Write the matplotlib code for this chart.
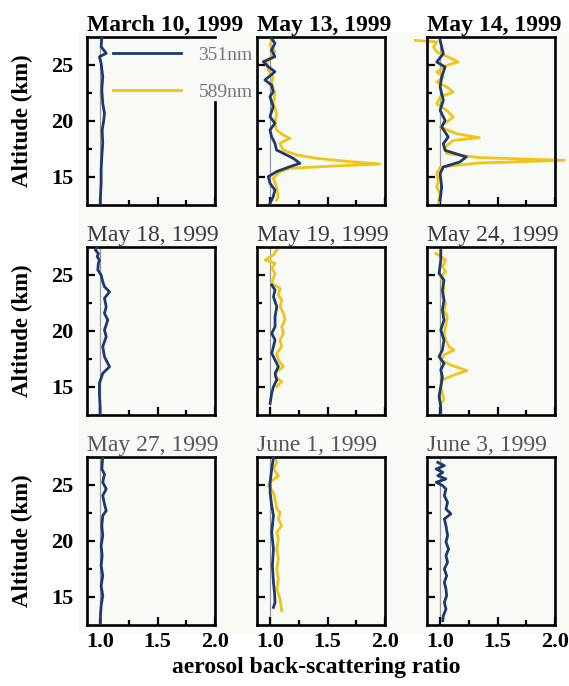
import matplotlib
matplotlib.use("Agg")
import matplotlib.pyplot as plt
from matplotlib.lines import Line2D
from matplotlib.patches import Rectangle

plt.rcParams['font.family'] = ['Liberation Serif', 'DejaVu Serif']

BLUE = '#1d3a70'
GOLD = '#f2c318'
TINT = '#f7faf5'

titles = ["March 10, 1999", "May 13, 1999", "May 14, 1999",
          "May 18, 1999", "May 19, 1999", "May 24, 1999",
          "May 27, 1999", "June 1, 1999", "June 3, 1999"]

# altitude (km) / back-scattering ratio profiles, 351 nm and 589 nm
mar10_alt_351 = [27.38, 26.64, 26.04, 25.74, 25.15, 23.96, 22.77, 21.58, 20.69, 20.09,
                 19.2, 18.0, 16.82, 15.63, 14.44, 13.24, 12.65]
mar10_r_351 = [1.015, 1.009, 1.053, 0.994, 1.009, 1.023, 1.015, 1.023, 1.038, 1.032,
               1.018, 1.023, 1.015, 1.009, 1.009, 1.003, 1.003]

may13_alt_351 = [27.38, 26.93, 26.34, 25.74, 25.3, 24.85, 24.4, 23.66, 23.21, 22.62,
                 22.17, 21.28, 20.39, 19.79, 19.2, 18.6, 18.01, 17.41, 16.97, 16.67,
                 16.22, 15.92, 15.48, 15.03, 14.44, 13.84, 13.24, 12.65]
may13_r_351 = [1.013, 1.042, 1.013, 1.042, 0.941, 0.984, 1.042, 0.955, 1.013, 1.027,
               0.999, 1.027, 0.999, 1.042, 0.999, 1.013, 1.042, 1.056, 1.143, 1.201,
               1.259, 1.172, 1.056, 0.984, 0.999, 1.042, 1.027, 0.999]
may13_alt_589 = [27.38, 26.79, 26.19, 25.6, 25.15, 24.55, 23.96, 23.36, 22.47, 21.58,
                 20.69, 19.79, 19.2, 18.75, 18.45, 18.01, 17.41, 16.97, 16.67, 16.37,
                 16.16, 15.98, 15.77, 15.48, 14.88, 14.14, 13.24, 12.94]
may13_r_589 = [1.027, 0.999, 1.042, 0.999, 0.97, 0.984, 1.027, 1.013, 1.042, 1.027,
               1.056, 1.042, 1.056, 1.114, 1.172, 1.085, 1.114, 1.23, 1.404, 1.694,
               1.955, 1.549, 1.172, 1.085, 1.027, 1.056, 1.07, 1.056]

may14_alt_351 = [27.2, 26.61, 26.01, 25.27, 24.82, 23.93, 23.04, 21.85, 20.95, 20.06,
                 19.47, 18.57, 17.98, 17.38, 16.79, 16.34, 15.89, 15.3, 14.11, 12.92]
may14_r_351 = [1.0, 1.014, 1.028, 0.971, 1.043, 1.014, 1.0, 1.028, 1.0, 1.043,
               1.014, 1.071, 1.028, 1.043, 1.228, 1.171, 1.028, 1.0, 1.014, 1.0]
may14_alt_589 = [27.2, 27.06, 26.61, 26.16, 25.72, 25.27, 24.97, 24.38, 23.93, 23.48,
                 23.04, 22.59, 22.14, 21.55, 20.95, 20.36, 19.91, 19.47, 18.87, 18.51,
                 18.27, 17.68, 17.09, 16.73, 16.49, 16.25, 15.89, 15.3, 14.7, 14.11,
                 13.51, 12.62]
may14_r_589 = [0.786, 0.971, 0.943, 0.971, 1.071, 1.157, 1.057, 0.971, 1.028, 0.971,
               1.057, 1.114, 1.0, 0.971, 1.057, 1.114, 1.057, 1.0, 1.142, 1.341,
               1.114, 1.043, 1.057, 1.341, 2.081, 1.341, 1.0, 0.971, 0.985, 0.971,
               1.0, 0.985]

may18_alt_351 = [27.44, 27.23, 26.93, 26.63, 26.34, 26.04, 25.45, 25.0, 24.4, 23.96,
                 23.5, 22.92, 22.17, 21.58, 20.98, 20.09, 19.49, 18.6, 17.7, 16.81,
                 16.22, 15.33, 14.44, 13.24, 12.5]
may18_r_351 = [0.971, 0.958, 0.985, 0.975, 0.994, 0.985, 0.98, 1.009, 1.023, 1.038,
               1.082, 1.038, 1.053, 1.038, 1.067, 1.038, 1.053, 1.023, 1.038, 1.082,
               1.023, 0.994, 0.994, 1.0, 1.0]

may19_alt_351 = [24.11, 23.66, 23.07, 22.17, 21.28, 20.39, 19.79, 19.2, 18.6, 18.01,
                 17.41, 16.82, 16.22, 15.63, 15.03, 14.44, 13.54]
may19_r_351 = [1.014, 1.043, 1.029, 1.058, 1.043, 1.043, 1.014, 1.043, 1.029, 1.014,
               1.043, 1.072, 1.043, 1.058, 1.029, 1.014, 1.0]
may19_alt_589 = [27.23, 26.79, 26.34, 26.04, 25.6, 25.15, 24.7, 24.26, 23.81, 23.21,
                 22.77, 22.17, 21.58, 20.98, 20.39, 19.79, 19.2, 18.6, 18.01, 17.41,
                 16.82, 16.37, 15.92, 15.48, 15.03]
may19_r_589 = [1.058, 1.029, 0.957, 1.043, 1.014, 1.043, 1.029, 1.014, 1.087, 1.072,
               1.101, 1.087, 1.116, 1.13, 1.101, 1.116, 1.087, 1.101, 1.058, 1.072,
               1.116, 1.058, 1.043, 1.101, 1.058]

may24_alt_351 = [27.23, 26.34, 25.15, 24.55, 23.66, 22.77, 21.88, 20.98, 20.09, 19.2,
                 18.3, 17.71, 17.11, 16.52, 15.92, 15.03, 14.14, 13.24, 12.65]
may24_r_351 = [1.006, 1.006, 0.991, 1.034, 1.02, 1.034, 1.02, 1.034, 1.006, 1.034,
               1.02, 0.991, 1.034, 1.006, 1.02, 1.006, 0.991, 1.006, 1.006]
may24_alt_589 = [26.93, 26.34, 25.74, 25.3, 24.85, 23.96, 23.07, 22.47, 21.88, 21.28,
                 20.39, 19.79, 19.2, 18.6, 18.3, 17.86, 17.41, 16.97, 16.46, 16.07,
                 15.63, 15.03, 14.44, 13.84, 13.54]
may24_r_589 = [0.963, 1.048, 1.02, 1.048, 1.006, 1.034, 1.02, 1.048, 1.034, 1.063,
               1.048, 1.034, 1.048, 1.077, 1.12, 1.034, 1.006, 1.091, 1.233, 1.12,
               1.02, 1.006, 1.02, 1.034, 1.006]

may27_alt_351 = [27.47, 26.43, 25.98, 25.24, 24.64, 24.05, 23.3, 22.7, 22.26, 21.37,
                 20.48, 19.58, 18.69, 17.8, 16.9, 16.0, 15.12, 14.22, 13.33, 12.5]
may27_r_351 = [1.023, 1.015, 1.038, 1.023, 1.053, 1.023, 1.038, 1.053, 1.023, 1.015,
               1.023, 1.009, 1.018, 1.009, 1.023, 1.009, 1.023, 1.009, 1.003, 1.003]

jun1_alt_351 = [27.47, 26.43, 25.24, 24.34, 23.15, 22.26, 20.77, 19.28, 17.8, 16.31,
                15.41, 14.52, 14.07]
jun1_r_351 = [1.029, 1.014, 1.0, 1.0, 1.014, 1.029, 1.014, 1.029, 1.02, 1.029,
              1.038, 1.043, 1.029]
jun1_alt_589 = [27.47, 27.02, 26.43, 25.83, 25.24, 24.94, 24.34, 23.75, 22.86, 22.56,
                21.96, 21.37, 20.77, 20.18, 19.28, 18.39, 17.5, 16.6, 15.71, 14.82,
                13.77]
jun1_r_589 = [1.043, 1.058, 1.029, 1.072, 1.0, 0.986, 1.029, 1.043, 1.058, 1.087,
              1.072, 1.101, 1.058, 1.072, 1.058, 1.072, 1.058, 1.072, 1.058, 1.087,
              1.101]

jun3_alt_351 = [27.02, 26.73, 26.43, 26.13, 25.83, 25.54, 25.24, 24.94, 24.64, 24.05,
                23.46, 22.86, 22.42, 21.97, 21.37, 20.48, 19.88, 19.29, 18.69, 18.1,
                17.5, 16.9, 16.31, 15.71, 15.12, 14.52, 13.92, 13.33, 12.88]
jun3_r_351 = [0.98, 1.037, 0.966, 1.023, 0.98, 1.051, 0.966, 1.023, 1.051, 1.037,
              1.065, 1.051, 1.094, 1.037, 1.051, 1.065, 1.051, 1.074, 1.051, 1.065,
              1.037, 1.057, 1.037, 1.051, 1.057, 1.037, 1.051, 1.028, 1.023]

profiles_351 = [(mar10_alt_351, mar10_r_351), (may13_alt_351, may13_r_351),
                (may14_alt_351, may14_r_351), (may18_alt_351, may18_r_351),
                (may19_alt_351, may19_r_351), (may24_alt_351, may24_r_351),
                (may27_alt_351, may27_r_351), (jun1_alt_351, jun1_r_351),
                (jun3_alt_351, jun3_r_351)]
profiles_589 = [None, (may13_alt_589, may13_r_589), (may14_alt_589, may14_r_589),
                None, (may19_alt_589, may19_r_589), (may24_alt_589, may24_r_589),
                None, (jun1_alt_589, jun1_r_589), None]

W, H = 569, 686
col_left = [87, 257, 427]
row_top = [37, 247, 457]
pw, ph = 128, 168

fig = plt.figure(figsize=(W / 100, H / 100), dpi=100)
# faint tinted backing behind the panel grid
fig.add_artist(Rectangle((78 / W, 1 - 633 / H), 1 - 78 / W, (633 - 32) / H,
                         transform=fig.transFigure, facecolor=TINT,
                         edgecolor='none', zorder=-5))

for i, title in enumerate(titles):
    r, c = divmod(i, 3)
    ax = fig.add_axes([col_left[c] / W, 1 - (row_top[r] + ph) / H, pw / W, ph / H])
    ax.set_zorder(1)
    ax.set_facecolor(TINT)
    ax.set_xlim(0.886, 1.99)
    ax.set_ylim(12.5, 27.5)
    ax.axvline(1.0, color='#9a9a9a', lw=0.9, zorder=1)

    if profiles_589[i] is not None:
        alt, ratio = profiles_589[i]
        ax.plot(ratio, alt, color=GOLD, lw=2.0, zorder=2, clip_on=(i != 2))
    alt, ratio = profiles_351[i]
    ax.plot(ratio, alt, color=BLUE, lw=2.0, zorder=3)

    ax.set_xticks([1.0, 1.5, 2.0])
    ax.set_xticks([1.25, 1.75], minor=True)
    ax.set_yticks([15, 20, 25])
    ax.set_yticks([17.5, 22.5], minor=True)
    ax.tick_params(which='both', direction='in', width=1.6, top=False, right=False,
                   labelsize=16)
    ax.tick_params(which='major', length=6)
    ax.tick_params(which='minor', length=3.5)
    ax.tick_params(axis='y', pad=10)
    ax.tick_params(axis='x', pad=5)
    if r < 2:
        ax.tick_params(labelbottom=False)
    if c > 0:
        ax.tick_params(labelleft=False)
    for lab in ax.get_xticklabels() + ax.get_yticklabels():
        lab.set_fontweight('bold')
    for sp in ax.spines.values():
        sp.set_linewidth(1.9)

    ax.set_title(title, loc='left', pad=4, fontsize=17,
                 fontweight='bold' if r == 0 else 'normal',
                 color='black' if r == 0 else ('#3a3a3a' if r == 1 else '#555555'))

    if i == 0:
        handles = [Line2D([], [], color=BLUE, lw=2.0), Line2D([], [], color=GOLD, lw=2.0)]
        ax.legend(handles, ['351nm', '589nm'], loc='upper left', frameon=False,
                  bbox_to_anchor=((113 - 87) / pw, (205 - 46) / ph),
                  borderaxespad=0, borderpad=0, handlelength=3.5,
                  handletextpad=0.9, labelspacing=1.0,
                  prop={'size': 14}, labelcolor='#777777')
        ax.spines['right'].set_bounds(12.5, 21.7)

for r in range(3):
    yc = 1 - (row_top[r] + ph / 2) / H
    fig.text(22 / W, yc, 'Altitude (km)', rotation=90, ha='center', va='center',
             fontsize=16.5, fontweight='bold')

fig.text(316 / W, 1 - 668 / H, 'aerosol back-scattering ratio', ha='center',
         va='center', fontsize=17, fontweight='bold')

fig.savefig('out.png', dpi=100, facecolor='white')
